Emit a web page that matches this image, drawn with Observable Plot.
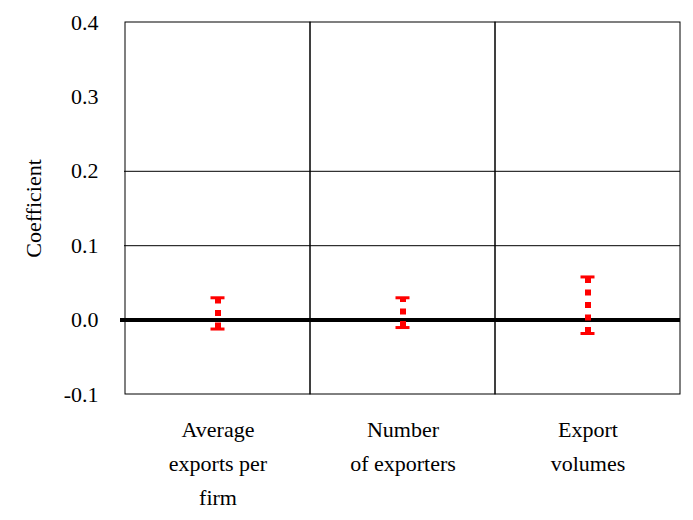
<!DOCTYPE html>
<html>
<head>
<meta charset="utf-8">
<script src="https://cdn.jsdelivr.net/npm/d3@7"></script>
<script src="https://cdn.jsdelivr.net/npm/@observablehq/plot@0.6"></script>
<style>
  html, body { margin: 0; padding: 0; background: #fff; }
</style>
</head>
<body>
<div id="chart"></div>
<script>
const categories = ["Average exports per firm", "Number of exporters", "Export volumes"];
const tickLabels = ["Average\nexports per\nfirm", "Number\nof exporters", "Export\nvolumes"];
const lower = [-0.012, -0.010, -0.018];
const upper = [0.030, 0.030, 0.058];
const yTicks = [-0.1, 0, 0.1, 0.2, 0.3, 0.4];
const gridLines = [0.1, 0.2];

const rows = categories.map((c, i) => ({cat: c, lo: lower[i], hi: upper[i]}));
const labelOf = new Map(categories.map((c, i) => [c, tickLabels[i]]));
const FONT = "'Liberation Serif', 'Times New Roman', serif";

const chart = Plot.plot({
  width: 693,
  height: 520,
  marginLeft: 124,
  marginRight: 13,
  marginTop: 22,
  marginBottom: 126,
  style: {fontFamily: FONT, fontSize: "22px", color: "black", background: "white"},
  x: {type: "band", domain: categories, padding: 0},
  y: {domain: [-0.1, 0.4]},
  marks: [
    Plot.barY(categories, {x: d => d, y1: -0.1, y2: 0.4, fill: "none", stroke: "black", strokeWidth: 1}),
    Plot.ruleY(gridLines, {stroke: "black", strokeWidth: 1}),
    Plot.ruleY([0], {stroke: "black", strokeWidth: 4, insetLeft: -4}),
    Plot.ruleX(rows, {x: "cat", y1: "lo", y2: "hi", stroke: "#ff0000", strokeWidth: 6, strokeDasharray: "6,6.5"}),
    Plot.tickY(rows, {x: "cat", y: "hi", stroke: "#ff0000", strokeWidth: 3, insetLeft: 85.5, insetRight: 85.5}),
    Plot.tickY(rows, {x: "cat", y: "lo", stroke: "#ff0000", strokeWidth: 3, insetLeft: 85.5, insetRight: 85.5}),
    Plot.axisY({ticks: yTicks, tickFormat: d => d.toFixed(1), tickSize: 0, tickPadding: 26, fontSize: 22,
      label: "Coefficient", labelAnchor: "center", labelArrow: "none", labelOffset: 99}),
    Plot.axisX({tickFormat: d => labelOf.get(d), tickSize: 0, tickPadding: 18, fontSize: 22, lineHeight: 1.55, label: null})
  ]
});
const svg = d3.select(chart);
svg.style("font-family", FONT, "important").style("font-size", "22px", "important");
svg.selectAll("g").each(function () {
  if (this.getAttribute("font-size") || this.getAttribute("font-family")) {
    d3.select(this).attr("font-family", FONT).attr("font-size", 22)
      .style("font-family", FONT, "important").style("font-size", "22px", "important");
  }
});
svg.selectAll("text, tspan")
  .attr("font-family", FONT).attr("font-size", 22)
  .style("font-family", FONT, "important")
  .style("font-size", "22px", "important")
  .style("fill", "black", "important");
document.getElementById("chart").appendChild(chart);
</script>
</body>
</html>
